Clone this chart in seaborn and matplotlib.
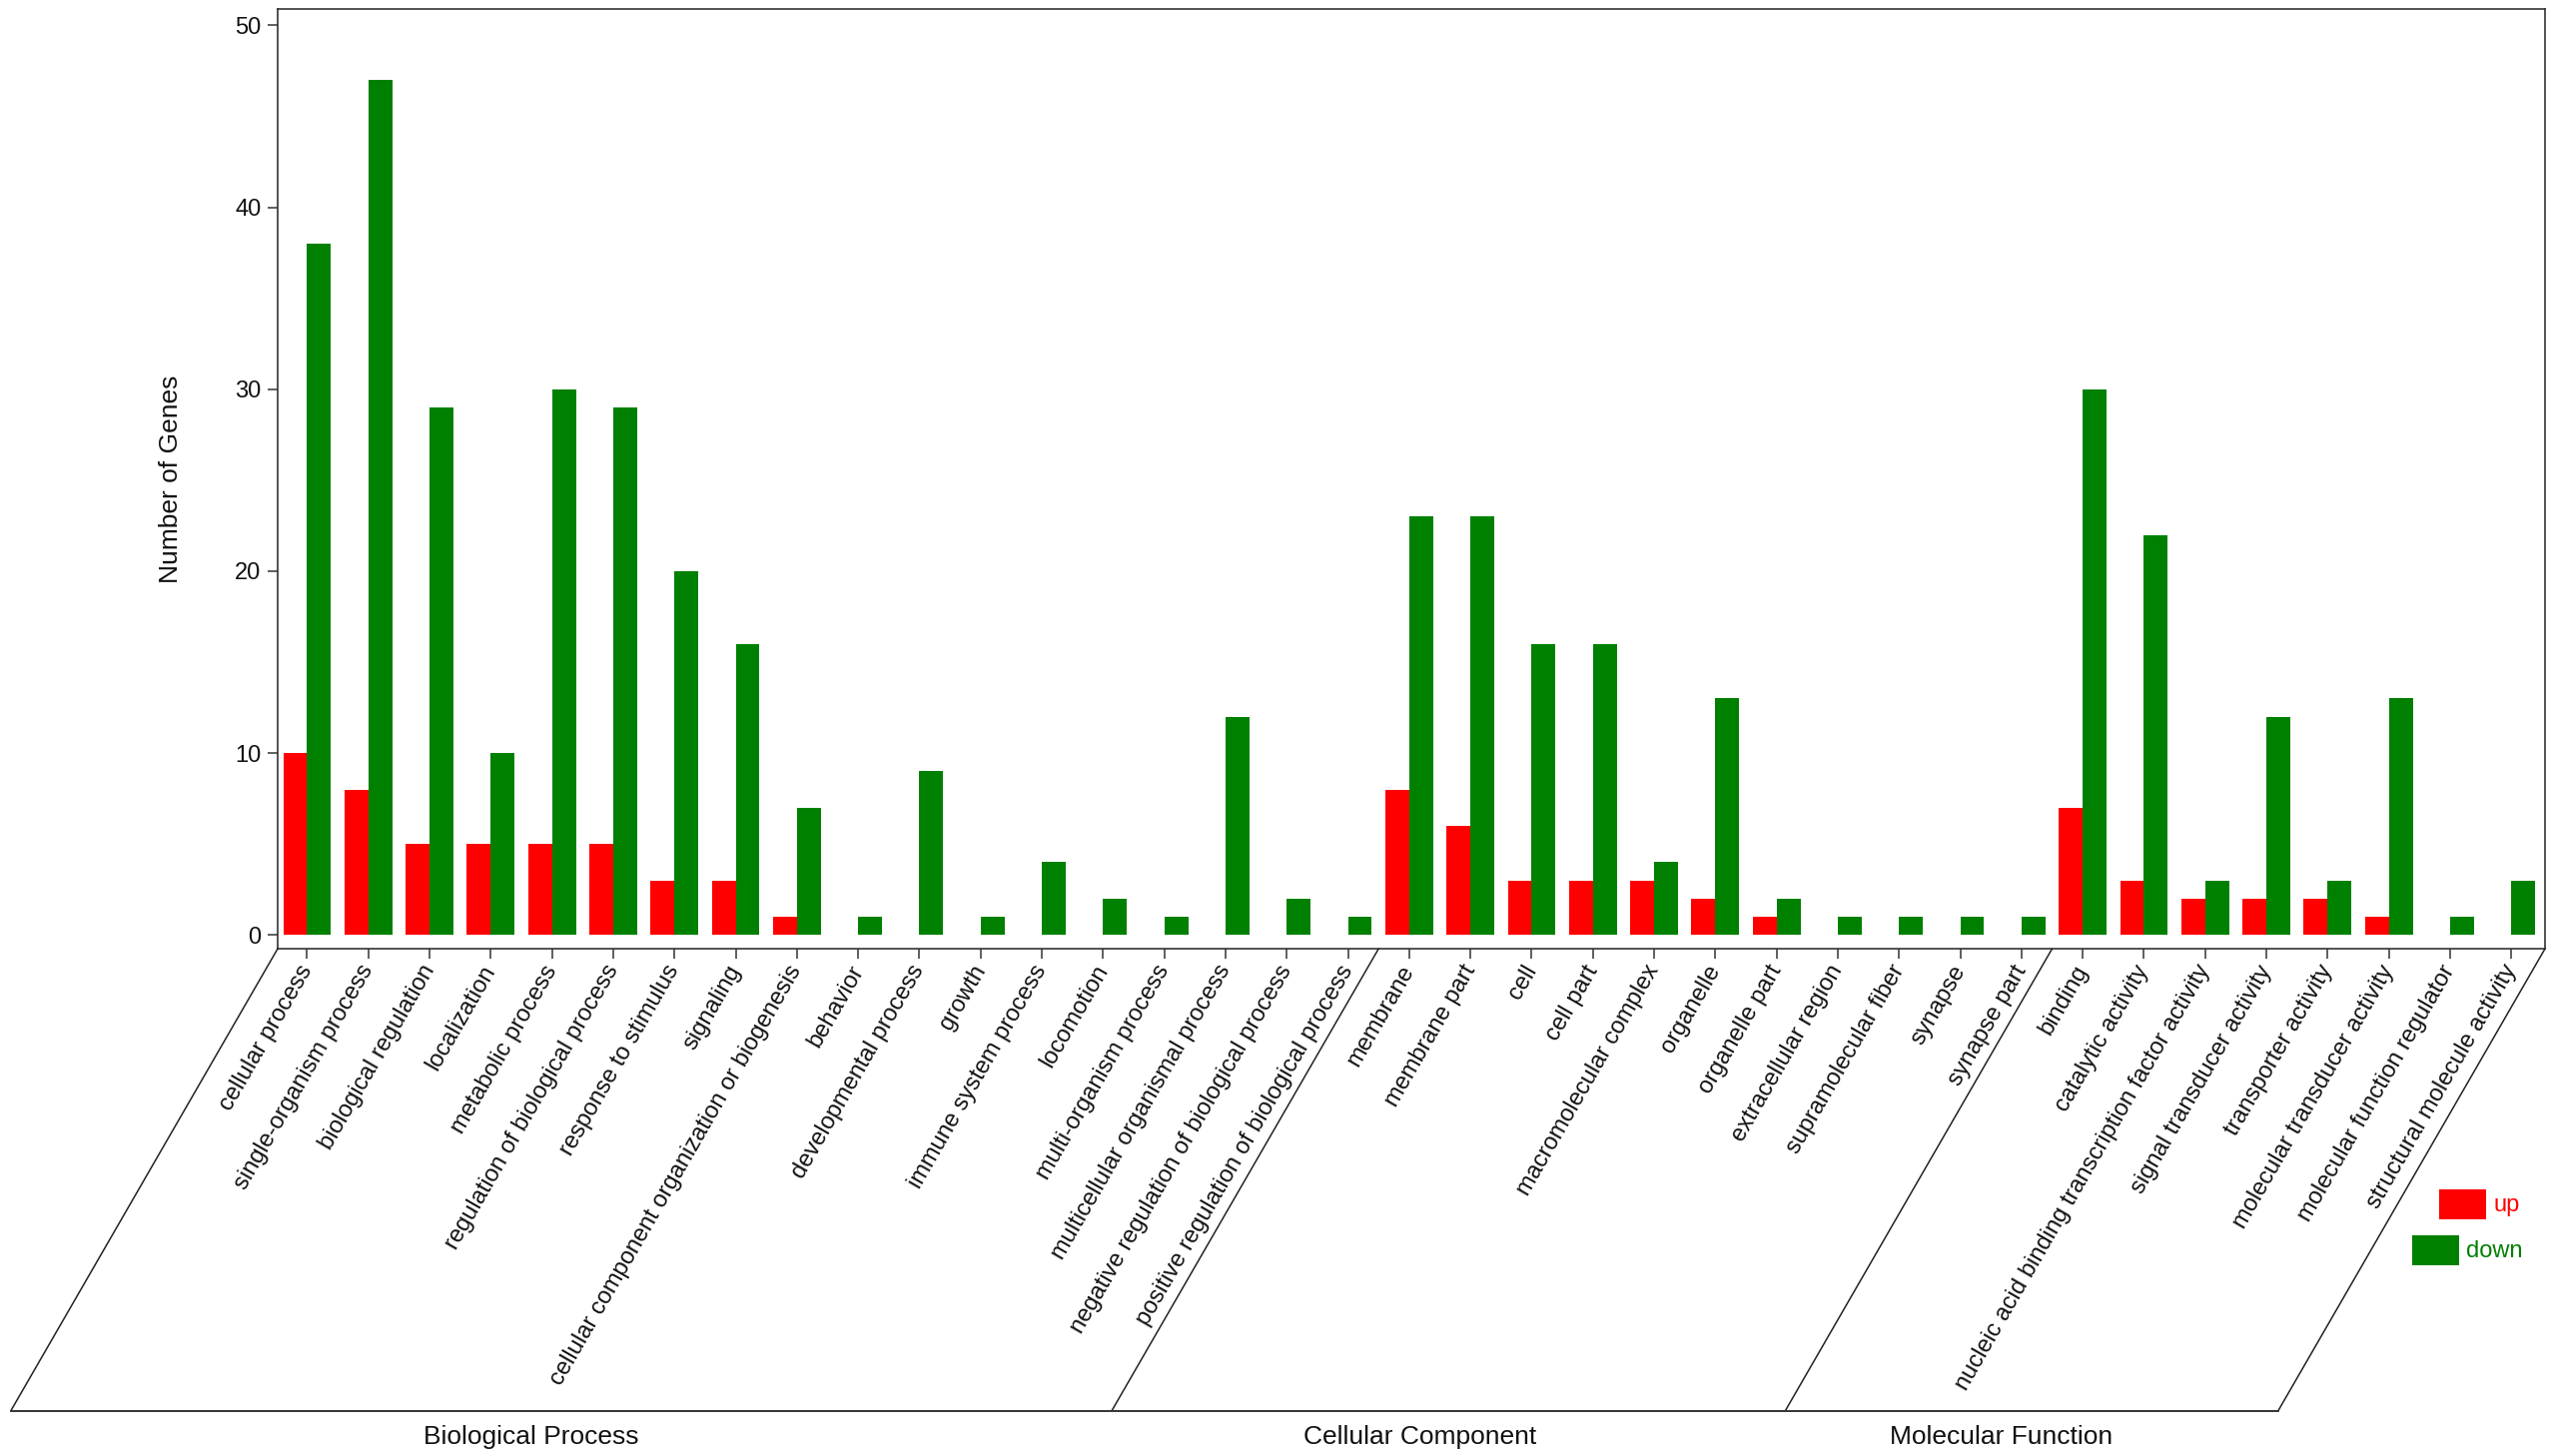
import numpy as np
import pandas as pd
import matplotlib
matplotlib.use("Agg")
import matplotlib.pyplot as plt
from matplotlib.lines import Line2D
from matplotlib.patches import Rectangle
import seaborn as sns


W, H, DPI = 2559, 1458, 100

PALETTE = {"up": "#FF0000", "down": "#008000"}

bp_terms = [
    "cellular process", "single-organism process", "biological regulation",
    "localization", "metabolic process", "regulation of biological process",
    "response to stimulus", "signaling",
    "cellular component organization or biogenesis", "behavior",
    "developmental process", "growth", "immune system process", "locomotion",
    "multi-organism process", "multicellular organismal process",
    "negative regulation of biological process",
    "positive regulation of biological process",
]
cc_terms = [
    "membrane", "membrane part", "cell", "cell part", "macromolecular complex",
    "organelle", "organelle part", "extracellular region",
    "supramolecular fiber", "synapse", "synapse part",
]
mf_terms = [
    "binding", "catalytic activity",
    "nucleic acid binding transcription factor activity",
    "signal transducer activity", "transporter activity",
    "molecular transducer activity", "molecular function regulator",
    "structural molecule activity",
]

bp_up   = [10, 8, 5, 5, 5, 5, 3, 3, 1, 0, 0, 0, 0, 0, 0, 0, 0, 0]
bp_down = [38, 47, 29, 10, 30, 29, 20, 16, 7, 1, 9, 1, 4, 2, 1, 12, 2, 1]
cc_up   = [8, 6, 3, 3, 3, 2, 1, 0, 0, 0, 0]
cc_down = [23, 23, 16, 16, 4, 13, 2, 1, 1, 1, 1]
mf_up   = [7, 3, 2, 2, 2, 1, 0, 0]
mf_down = [30, 22, 3, 12, 3, 13, 1, 3]

groups = ["Biological Process", "Cellular Component", "Molecular Function"]
y_ticks = [0, 10, 20, 30, 40, 50]


terms = bp_terms + cc_terms + mf_terms
up = bp_up + cc_up + mf_up
down = bp_down + cc_down + mf_down
n = len(terms)

df = pd.DataFrame({
    "term":  terms + terms,
    "count": up + down,
    "reg":   ["up"] * n + ["down"] * n,
})

sns.set_theme(style="ticks")
plt.rcParams["font.family"] = ["Liberation Sans", "DejaVu Sans"]

fig = plt.figure(figsize=(W / DPI, H / DPI), dpi=DPI)
ax = fig.add_axes([278 / W, 1 - 950 / H, (2548 - 278) / W, (950 - 9) / H])

sns.barplot(data=df, x="term", y="count", hue="reg", order=terms,
            hue_order=["up", "down"], palette=PALETTE, width=0.78,
            saturation=1, linewidth=0, errorbar=None, legend=False, ax=ax)

ax.set_xlim(-0.48, n - 1 + 0.55)
ax.set_ylim(-0.75, 50.9)
ax.set_yticks(y_ticks)
ax.set_xticks(range(n))
ax.set_xticklabels(terms, rotation=60, ha="right", va="center",
                   rotation_mode="anchor", fontsize=17, color="#111111")
ax.tick_params(axis="both", direction="out", length=7, width=1.1,
               color="#333333")
ax.tick_params(axis="y", labelsize=17, pad=5, labelcolor="#111111")
ax.tick_params(axis="x", pad=6)
for s in ax.spines.values():
    s.set_visible(True)
    s.set_linewidth(1.2)
    s.set_color("#333333")

ax.set_xlabel("")
ax.set_ylabel("Number of Genes", fontsize=19, color="#111111")
ax.yaxis.set_label_coords(-0.042, 0.5)

# slanted group frame below the axis
drop = 463
shift = drop / np.tan(np.radians(60))
y_top = ax.transAxes.transform((0, 0))[1]
xl, xr = ax.get_xlim()
nb, nc = len(bp_terms), len(cc_terms)
edges = [xl, nb - 0.5, nb + nc - 0.5, xr]
to_fig = fig.transFigure.inverted()
bottoms = []
for xd in edges:
    px = ax.transData.transform((xd, 0))[0]
    p0 = to_fig.transform((px, y_top))
    p1 = to_fig.transform((px - shift, y_top - drop))
    bottoms.append(p1)
    fig.add_artist(Line2D([p0[0], p1[0]], [p0[1], p1[1]],
                          transform=fig.transFigure, color="#222222", lw=1.1))
fig.add_artist(Line2D([bottoms[0][0], bottoms[-1][0]],
                      [bottoms[0][1], bottoms[-1][1]],
                      transform=fig.transFigure, color="#333333", lw=1.4))

for name, cx in zip(groups, [532, 1422, 2004]):
    fig.text(cx / W, 1 - 1439 / H, name, ha="center", va="center",
             fontsize=19, color="#111111")

# legend, offset along the slant
for (x0, y0), lab, tx, ty in [((2442, 1191), "up", 2497, 1207),
                              ((2415, 1237), "down", 2469, 1253)]:
    fig.add_artist(Rectangle((x0 / W, 1 - (y0 + 30) / H), 47 / W, 30 / H,
                             transform=fig.transFigure,
                             facecolor=PALETTE[lab], edgecolor="none"))
    fig.text(tx / W, 1 - ty / H, lab, ha="left", va="center", fontsize=17,
             color=PALETTE[lab])

fig.savefig("out.png", dpi=DPI)
plt.close(fig)
